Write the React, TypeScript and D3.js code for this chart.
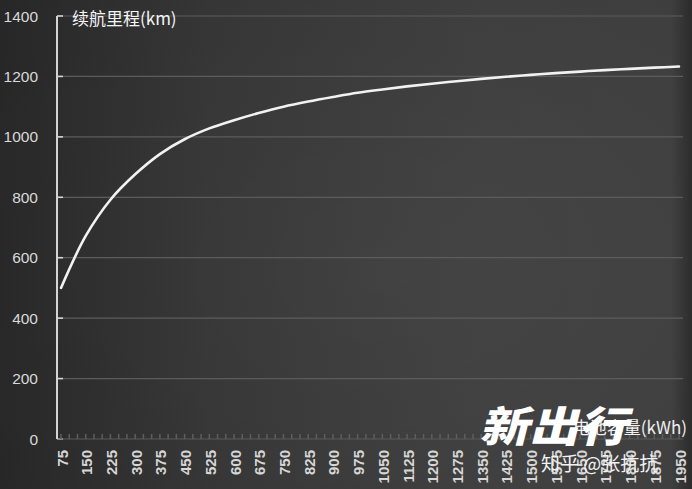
import React from 'react';
import * as d3 from 'd3';

const capacities = [75, 150, 225, 300, 375, 450, 525, 600, 675, 750, 825, 900, 975, 1050, 1125, 1200, 1275, 1350, 1425, 1500, 1575, 1650, 1725, 1800, 1875, 1950];
const ranges = [500, 672, 792, 876, 943, 992, 1028, 1055, 1079, 1100, 1117, 1132, 1146, 1157, 1167, 1176, 1184, 1192, 1199, 1205, 1211, 1216, 1221, 1225, 1229, 1233];
const yTicks = [0, 200, 400, 600, 800, 1000, 1200, 1400];
const yTitle = '续航里程(km)';
const xTitle = '电池容量(kWh)';
const watermarkLogo = '新出行';
const watermarkUser = '知乎 @张抗抗';

const W = 692;
const H = 489;

export default function App() {
  const x = d3.scaleLinear().domain([75, 1950]).range([61, 679]);
  const y = d3.scaleLinear().domain([0, 1400]).range([439, 16]);
  const minor = d3.range(75, 1951, 25);
  const pts: [number, number][] = capacities.map((c, i) => [c, ranges[i]]);
  const line = d3
    .line<[number, number]>()
    .x((d) => x(d[0]))
    .y((d) => y(d[1]))
    .curve(d3.curveCatmullRom.alpha(0.5));
  const axisX = 57;
  const font = "'Liberation Sans', 'DejaVu Sans', sans-serif";
  const cjk = "'Noto Sans CJK SC', 'Noto Sans', sans-serif";
  return (
    <svg width={W} height={H} style={{ position: 'fixed', left: 0, top: 0 }}>
      <defs>
        <linearGradient id="bg" x1="0" x2="1" y1="0" y2="0">
          <stop offset="0" stopColor="#2c2c2c" />
          <stop offset="0.3" stopColor="#3b3b3b" />
          <stop offset="0.7" stopColor="#454545" />
          <stop offset="0.97" stopColor="#464646" />
          <stop offset="1" stopColor="#303030" />
        </linearGradient>
        <radialGradient id="shade" cx="0.55" cy="0.55" r="0.75">
          <stop offset="0" stopColor="#000" stopOpacity="0" />
          <stop offset="1" stopColor="#000" stopOpacity="0.12" />
        </radialGradient>
      </defs>
      <rect width={W} height={H} fill="url(#bg)" />
      <rect width={W} height={H} fill="url(#shade)" />
      {yTicks.map((t) => (
        <g key={t}>
          {t > 0 && (
            <line x1={axisX} x2={683} y1={y(t)} y2={y(t)} stroke="#5c5c5c" strokeWidth={1.2} />
          )}
          <line x1={axisX} x2={axisX + 6} y1={y(t)} y2={y(t)} stroke="#d4d4d4" strokeWidth={1.6} />
          <text
            x={38}
            y={y(t)}
            textAnchor="end"
            dominantBaseline="central"
            fill="#d9d9d9"
            fontSize={15.5}
            fontFamily={font}
          >
            {t}
          </text>
        </g>
      ))}
      <line x1={axisX} x2={683} y1={y(0)} y2={y(0)} stroke="#5a5a5a" strokeWidth={1.2} />
      {minor.map((m) => (
        <line key={m} x1={x(m)} x2={x(m)} y1={y(0) - 5} y2={y(0)} stroke="#5e5e5e" strokeWidth={1.5} />
      ))}
      <line x1={axisX} x2={axisX} y1={y(1400)} y2={y(0)} stroke="#d4d4d4" strokeWidth={2} />
      <path d={line(pts) || ''} fill="none" stroke="#f2f2f2" strokeWidth={2.6} strokeLinecap="round" />
      {capacities.map((c) => (
        <text
          key={c}
          transform={`translate(${x(c) + 1},${450}) rotate(-90)`}
          textAnchor="end"
          dominantBaseline="central"
          fill="#d6d6d6"
          fontSize={15}
          fontWeight="bold"
          fontFamily={font}
        >
          {c}
        </text>
      ))}
      <text x={72} y={17} dominantBaseline="central" fill="#f4f4f4" fontSize={17} fontFamily={cjk}>
        {yTitle}
      </text>
      <text x={687} y={426} textAnchor="end" dominantBaseline="central" fill="#f0f0f0" fontSize={17} fontFamily={cjk}>
        {xTitle}
      </text>
      <g transform="translate(484,423) skewX(-14) scale(1.18,1)">
        <text
          x={0}
          y={0}
          dominantBaseline="central"
          fill="#ffffff"
          fontSize={42}
          fontWeight="900"
          fontFamily={cjk}
        >
          {watermarkLogo}
        </text>
      </g>
      <text x={541} y={462} dominantBaseline="central" fill="#f2f2f2" fontSize={19} fontFamily={cjk}>
        {watermarkUser}
      </text>
    </svg>
  );
}
